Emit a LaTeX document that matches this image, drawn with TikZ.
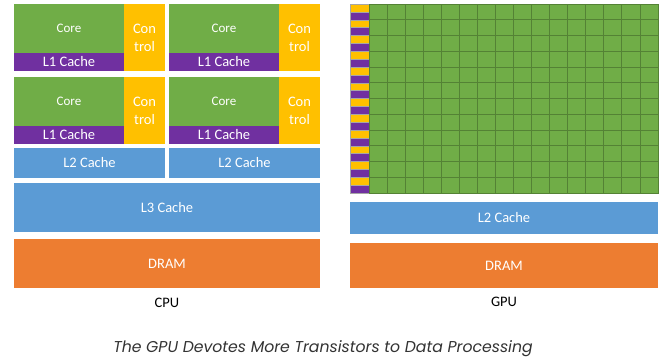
\documentclass[tikz,border=0pt]{standalone}
\usepackage{fontspec}
\usetikzlibrary{calc}
\setmainfont{Carlito}
\newfontfamily\capfont{Poppins}
\definecolor{cgreen}{HTML}{70AD47}
\definecolor{cgridline}{HTML}{548235}
\definecolor{cpurple}{HTML}{7030A0}
\definecolor{cyellow}{HTML}{FFC000}
\definecolor{cblue}{HTML}{5B9BD5}
\definecolor{corange}{HTML}{ED7D31}
\definecolor{capgray}{HTML}{333333}
\definecolor{sepgray}{HTML}{A6A6A6}
\begin{document}
\begin{tikzpicture}[x=1pt,y=-1pt,
  blk/.style={inner sep=0pt, outer sep=0pt, anchor=north west, text=white,
    font=\fontsize{14.5}{18}\selectfont, align=center},
  lbl/.style={inner sep=0pt, text=black, font=\fontsize{14.5}{16}\selectfont}]
\fill[white] (0,0) rectangle (666,360);
\useasboundingbox (0,0) rectangle (666,360);
% CPU cores
\foreach \dx/\dy/\n in {0/0/a,155/0/b,0/73/c,155/73/d} {
  \node[blk, fill=cgreen, minimum width=110pt, minimum height=49pt,
        font=\fontsize{13}{14}\selectfont] (core\n) at (14+\dx,4+\dy) {Core};
  \node[blk, fill=cpurple, minimum width=110pt, minimum height=18pt] (lone\n) at (14+\dx,53+\dy) {L1 Cache};
  \node[blk, fill=cyellow, minimum width=41pt, minimum height=67pt] (ctrl\n) at (124+\dx,4+\dy) {Con\\trol};
}
\node[blk, fill=cblue, minimum width=151pt, minimum height=30pt] (ltwoa) at (14,148) {L2 Cache};
\node[blk, fill=cblue, minimum width=151pt, minimum height=30pt] (ltwob) at (169,148) {L2 Cache};
\node[blk, fill=cblue, minimum width=306pt, minimum height=49pt] (lthree) at (14,183) {L3 Cache};
\node[blk, fill=corange, minimum width=306pt, minimum height=49pt] (dramc) at (14,239) {DRAM};
\node[lbl] (cpu) at (167,303) {CPU};
% GPU
\foreach \i in {0,...,11} {
  \node[blk, fill=cyellow, draw=sepgray, line width=0.3pt, minimum width=19pt, minimum height=7.875pt] (gy\i) at (350,4+\i*15.75) {};
  \node[blk, fill=cpurple, draw=sepgray, line width=0.3pt, minimum width=19pt, minimum height=7.875pt] (gp\i) at (350,4+\i*15.75+7.875) {};
}
\node[blk, fill=cgreen, minimum width=289pt, minimum height=189pt] (grid) at (369,4) {};
\foreach \i in {1,...,15} {
  \draw[cgridline, line width=0.8pt] ($(grid.north west)+(\i*18.0625,0)$) -- ($(grid.south west)+(\i*18.0625,0)$);
}
\foreach \i in {1,...,11} {
  \draw[cgridline, line width=0.8pt] ($(grid.north west)+(0,\i*15.75)$) -- ($(grid.north east)+(0,\i*15.75)$);
}
\draw[cgridline, line width=0.8pt] (grid.north west) rectangle (grid.south east);
\node[blk, fill=cblue, minimum width=308pt, minimum height=32pt] (ltwog) at (350,202) {L2 Cache};
\node[blk, fill=corange, minimum width=308pt, minimum height=45pt] (dramg) at (350,243) {DRAM};
\node[lbl] (gpu) at (504,302) {GPU};
\node[inner sep=0pt, text=capgray, font=\capfont\itshape\fontsize{15.7}{18}\selectfont] (cap) at (323,349) {The GPU Devotes More Transistors to Data Processing};
\end{tikzpicture}
\end{document}
